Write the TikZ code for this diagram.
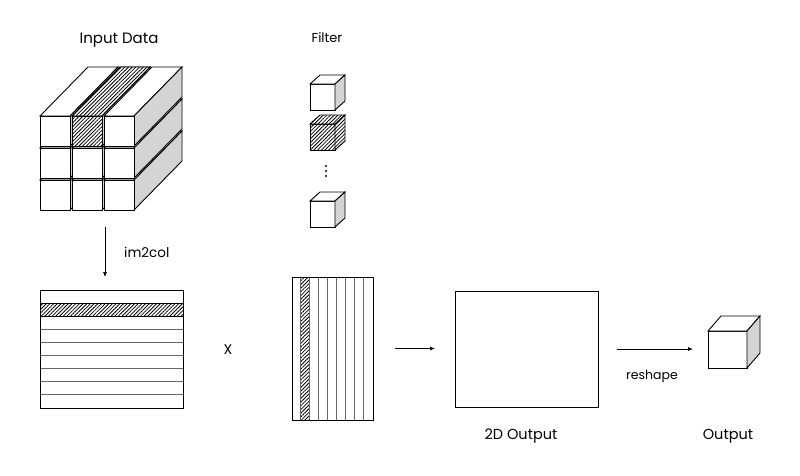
\documentclass[tikz,border=0pt]{standalone}
\usepackage{fontspec}
\setmainfont{Poppins}
\usetikzlibrary{patterns.meta,arrows.meta}
\definecolor{sidegray}{gray}{0.83}
\definecolor{rulegray}{gray}{0.4}
\begin{document}
\begin{tikzpicture}[x=1pt,y=-1pt,
  ln/.style={line width=0.9pt, line join=miter},
  wface/.style={ln, draw=black, fill=white},
  gface/.style={ln, draw=black, fill=sidegray},
  hface/.style={ln, draw=black, preaction={fill=white}, pattern={Lines[angle=45,distance=2.6pt,line width=0.8pt]}},
  hbare/.style={preaction={fill=white}, pattern={Lines[angle=45,distance=2.6pt,line width=0.8pt]}},
  box/.style={wface, inner sep=0pt, outer sep=0pt},
  rule/.style={draw=rulegray, line width=0.8pt},
  arr/.style={line width=0.7pt, -{Latex[length=5pt,width=4pt]}},
  lab/.style={inner sep=0pt, font=\fontsize{14.5}{16}\selectfont},
  biglab/.style={inner sep=0pt, font=\fontsize{15}{17}\selectfont},
  midlab/.style={inner sep=0pt, font=\fontsize{13}{15}\selectfont}
]
\useasboundingbox[fill=white] (0,0) rectangle (800,475);

% ---------- Input data cube (9 bars) ----------
\foreach \j in {2,1,0}{
  \foreach \i in {0,1,2}{
    \pgfmathsetmacro{\x}{40+32*\i}
    \pgfmathsetmacro{\y}{116+32*\j}
    \draw[wface] (\x,\y) -- ++(48,-49) -- ++(30,0) -- ++(-48,49) -- cycle;
    \draw[gface] (\x+30,\y) -- ++(48,-49) -- ++(0,30) -- ++(-48,49) -- cycle;
    \draw[wface] (\x,\y) rectangle ++(30,30);
  }
}
% hatched bar (top row, middle column)
\draw[hface] (72,116) -- ++(48,-49) -- ++(30,0) -- ++(-48,49) -- cycle;
\draw[hface] (72,116) rectangle ++(30,30);
\coordinate (inbot) at (105,210);
\node[biglab] (tin) at (119,40) {Input Data};

% ---------- Filters ----------
\node[midlab] (tfil) at (327,38) {Filter};
\node[box, minimum width=25pt, minimum height=26pt] (f1) at (322.5,97) {};
\draw[wface] (f1.north west) -- ++(10,-9) -- ++(25,0) -- (f1.north east) -- cycle;
\draw[gface] (f1.north east) -- ++(10,-9) -- ++(0,26) -- (f1.south east) -- cycle;

\node[box, hface, minimum width=25pt, minimum height=26pt] (f2) at (322.5,137) {};
\draw[hface] (f2.north west) -- ++(10,-9) -- ++(25,0) -- (f2.north east) -- cycle;
\draw[hface] (f2.north east) -- ++(10,-9) -- ++(0,26) -- (f2.south east) -- cycle;

\foreach \yy in {166,171,176}{ \fill (326,\yy) circle (1.1pt); }

\node[box, minimum width=25pt, minimum height=26pt] (f3) at (322.5,214) {};
\draw[wface] (f3.north west) -- ++(10,-9) -- ++(25,0) -- (f3.north east) -- cycle;
\draw[gface] (f3.north east) -- ++(10,-9) -- ++(0,26) -- (f3.south east) -- cycle;

% ---------- im2col matrix ----------
\node[box, minimum width=143pt, minimum height=118pt] (lm) at (111.5,349) {};
\fill[hbare] (40,303) rectangle (183,316);
\draw[ln] (40,303) -- (183,303);
\draw[ln] (40,316) -- (183,316);
\foreach \yy in {329,342,355,368,381,394}{ \draw[rule] (40,\yy) -- (183,\yy); }
\draw[ln] (lm.north west) rectangle (lm.south east);

\draw[arr, shorten <=17pt, shorten >=13pt] (inbot) -- (inbot |- lm.north);
\node[inner sep=0pt, font=\fontsize{13.5}{15}\selectfont, anchor=west] (tim) at (124,252) {im2col};

\node[inner sep=0pt, font=\fontsize{14}{16}\selectfont] (tx) at (228,350) {X};

% ---------- filter matrix ----------
\node[box, minimum width=81pt, minimum height=143pt] (rm) at (332.5,348.5) {};
\fill[hbare] (300,277) rectangle (309,420);
\draw[rule] (300,277) -- (300,420);
\draw[rule] (309,277) -- (309,420);
\foreach \xx in {318,327,336,345,354,363}{ \draw[rule] (\xx,277) -- (\xx,420); }
\draw[ln] (rm.north west) rectangle (rm.south east);

% ---------- 2D output ----------
\node[box, minimum width=143pt, minimum height=116pt] (o2) at (526.5,349) {};
\node[lab] (t2d) at (521,436) {2D Output};
\draw[arr, shorten <=22pt, shorten >=20pt] (rm.east) -- (rm.east -| o2.west);

% ---------- output cube ----------
\node[box, minimum width=39pt, minimum height=37pt] (oc) at (727.5,349.5) {};
\draw[wface] (oc.north west) -- ++(13,-15) -- ++(39,0) -- (oc.north east) -- cycle;
\draw[gface] (oc.north east) -- ++(13,-15) -- ++(0,37) -- (oc.south east) -- cycle;
\node[lab] (tout) at (728,436) {Output};
\draw[arr, shorten <=19pt, shorten >=15pt] (o2.east) -- (o2.east -| oc.west);
\node[inner sep=0pt, font=\fontsize{12.5}{14}\selectfont] (tres) at (652,376) {reshape};
\end{tikzpicture}
\end{document}
